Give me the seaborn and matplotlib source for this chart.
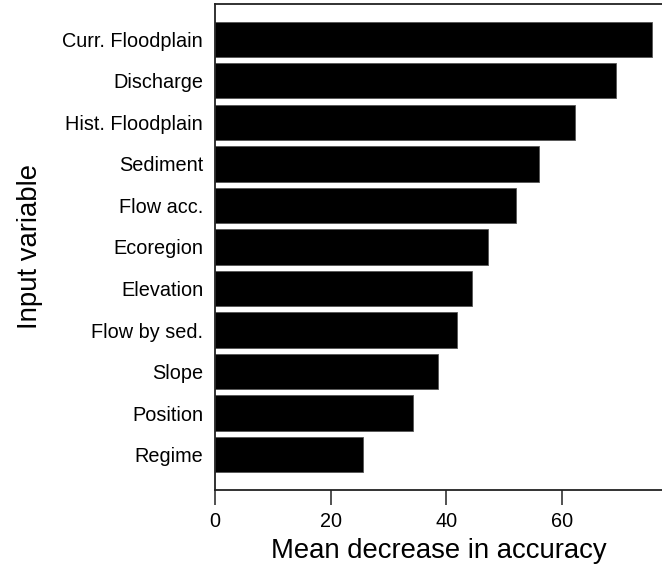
import matplotlib
matplotlib.use("Agg")
import matplotlib.pyplot as plt
import seaborn as sns
import pandas as pd

variables = ["Curr. Floodplain", "Discharge", "Hist. Floodplain", "Sediment",
             "Flow acc.", "Ecoregion", "Elevation", "Flow by sed.", "Slope",
             "Position", "Regime"]
importance = [75.6, 69.3, 62.3, 56.1, 52.0, 47.2, 44.5, 41.8, 38.5, 34.3, 25.6]
x_ticks = [0, 20, 40, 60]

sns.set_style("ticks")
plt.rcParams["font.family"] = ["Liberation Sans", "DejaVu Sans"]
plt.rcParams["text.color"] = "black"
plt.rcParams["axes.labelcolor"] = "black"
plt.rcParams["xtick.labelcolor"] = "black"
plt.rcParams["ytick.labelcolor"] = "black"

df = pd.DataFrame({"variable": variables, "importance": importance})

fig = plt.figure(figsize=(6.62, 5.67), dpi=100)
ax = fig.add_axes([0.3248, 0.1358, 0.6752, 0.8572])

sns.barplot(data=df, x="importance", y="variable", order=variables,
            color="black", width=0.85, saturation=1, ax=ax,
            edgecolor="#555555", linewidth=0.6)

ax.set_xlim(0, 77.3)
ax.set_ylim(10.85, -0.85)
ax.set_xticks(x_ticks)
ax.set_xticklabels([str(t) for t in x_ticks])
ax.tick_params(axis="x", length=11, width=1.2, color="#333333", labelsize=14.3, pad=5)
ax.tick_params(axis="y", length=0, labelsize=14.3, pad=8.5)

for side in ["left", "bottom", "top"]:
    ax.spines[side].set_visible(True)
    ax.spines[side].set_linewidth(1.3)
    ax.spines[side].set_color("#222222")
ax.spines["right"].set_visible(False)

ax.set_xlabel("Mean decrease in accuracy", fontsize=19.8, labelpad=5)
ax.set_ylabel("Input variable", fontsize=19.8, labelpad=14)

fig.savefig("out.png", dpi=100)
